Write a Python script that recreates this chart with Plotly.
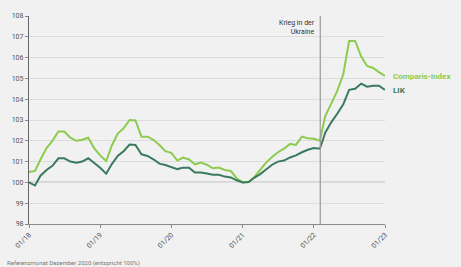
import pandas as pd
import plotly.graph_objects as go

months = pd.date_range("2018-01-01", "2023-01-01", freq="MS")

comparis = [100.5, 100.55, 101.1, 101.65, 102.0, 102.45, 102.45, 102.15, 102.0, 102.05,
            102.15, 101.65, 101.3, 101.03, 101.75, 102.35, 102.6, 103.0, 102.98, 102.2,
            102.2, 102.05, 101.8, 101.5, 101.42, 101.05, 101.19, 101.1, 100.87, 100.95,
            100.85, 100.68, 100.71, 100.6, 100.55, 100.2, 100.0, 100.03, 100.25, 100.6,
            100.95, 101.22, 101.45, 101.62, 101.85, 101.8, 102.2, 102.12, 102.1, 102.0,
            103.2, 103.8, 104.4, 105.2, 106.8, 106.8, 106.05, 105.6, 105.5, 105.3, 105.12]

lik = [100.0, 99.85, 100.32, 100.6, 100.8, 101.16, 101.16, 101.0, 100.95, 101.0,
       101.16, 100.95, 100.7, 100.42, 100.87, 101.27, 101.5, 101.82, 101.8, 101.35,
       101.27, 101.11, 100.9, 100.84, 100.75, 100.64, 100.71, 100.7, 100.47, 100.47,
       100.43, 100.37, 100.37, 100.28, 100.24, 100.1, 100.0, 100.02, 100.22, 100.4,
       100.62, 100.85, 101.0, 101.05, 101.2, 101.3, 101.45, 101.57, 101.65, 101.62,
       102.4, 102.9, 103.3, 103.75, 104.45, 104.5, 104.75, 104.6, 104.65, 104.65, 104.45]

x_ticks = ["2018-01-01", "2019-01-01", "2020-01-01", "2021-01-01", "2022-01-01", "2023-01-01"]
x_tick_labels = ["01/18", "01/19", "01/20", "01/21", "01/22", "01/23"]
y_ticks = list(range(98, 109))
war_date = "2022-02-03"

C_COMPARIS = "#8dcb4e"
C_LIK = "#3a7a5e"
BG = "#f1f1f1"

fig = go.Figure()
fig.add_trace(go.Scatter(x=months, y=comparis, mode="lines", name="Comparis-Index",
                         line=dict(color=C_COMPARIS, width=2), hoverinfo="skip"))
fig.add_trace(go.Scatter(x=months, y=lik, mode="lines", name="LIK",
                         line=dict(color=C_LIK, width=2), hoverinfo="skip"))

# 100 reference line
fig.add_shape(type="line", xref="paper", x0=0, x1=1, yref="y", y0=100, y1=100,
              line=dict(color="#8a8a8a", width=1.2), layer="below")
# war line
fig.add_shape(type="line", xref="x", x0=war_date, x1=war_date, yref="paper", y0=0, y1=1,
              line=dict(color="#9a9a9a", width=1.2))
fig.add_annotation(x=war_date, y=1, xref="x", yref="paper", xanchor="right", yanchor="top",
                   xshift=-3, yshift=-1, align="right", showarrow=False,
                   text="Krieg in der<br>Ukraine",
                   font=dict(family="Roboto", size=7, color="#333333"))

# end labels
fig.add_annotation(x=months[-1], y=comparis[-1], xref="x", yref="y", xanchor="left",
                   xshift=6, yshift=-1, showarrow=False, text="<b>Comparis-Index</b>",
                   font=dict(family="Roboto", size=8, color=C_COMPARIS))
fig.add_annotation(x=months[-1], y=lik[-1], xref="x", yref="y", xanchor="left",
                   xshift=6, yshift=-1, showarrow=False, text="<b>LIK</b>",
                   font=dict(family="Roboto", size=8, color=C_LIK))

fig.add_annotation(x=-24 / 356, y=-33 / 211, xref="paper", yref="paper",
                   xanchor="left", yanchor="top", showarrow=False,
                   text="Referenzmonat Dezember 2020 (entspricht 100%)",
                   font=dict(family="Roboto", size=6, color="#777777"))

fig.update_layout(
    width=461, height=267,
    margin=dict(l=29, r=76, t=13, b=43),
    paper_bgcolor=BG, plot_bgcolor=BG,
    showlegend=False,
    font=dict(family="Roboto", size=7, color="#555555"),
    xaxis=dict(range=["2018-01-01", "2023-01-01"], tickvals=x_ticks, ticktext=x_tick_labels,
               tickangle=-45, showgrid=False, zeroline=False, showline=True,
               linecolor="#8a8a8a", linewidth=1, ticks="outside", ticklen=3,
               tickcolor="#8a8a8a", tickfont=dict(size=7, color="#555555")),
    yaxis=dict(range=[98, 108], tickvals=y_ticks, showgrid=True, gridcolor="#dcdcdc",
               gridwidth=1, zeroline=False, showline=True, linecolor="#666666", linewidth=1.2,
               ticks="outside", ticklen=3, tickcolor="#8a8a8a",
               tickfont=dict(size=7, color="#555555")),
)

fig.write_html("out.html",
               config={"displayModeBar": False},
               post_script="document.body.style.margin='0';document.body.style.background='#f1f1f1';")
